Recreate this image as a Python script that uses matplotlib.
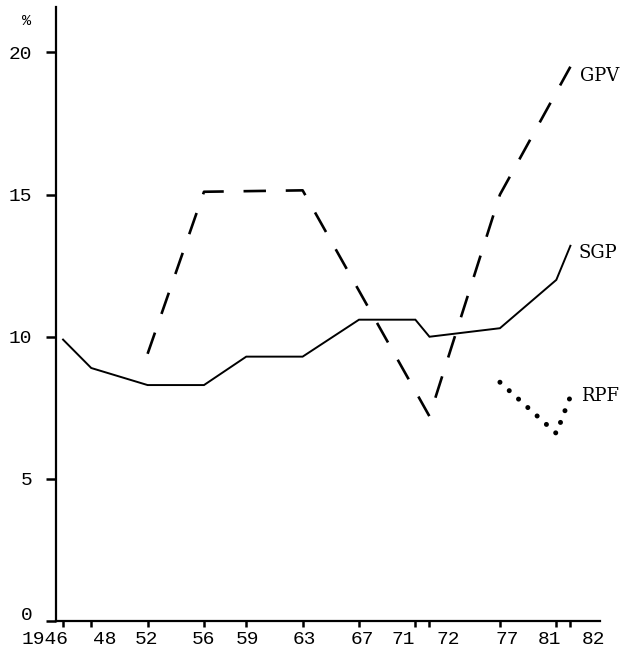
import matplotlib
matplotlib.use("Agg")
import matplotlib.pyplot as plt
import matplotlib.transforms as mtransforms

# years on the x axis (ticks) and their printed labels
tick_years = [1946, 1948, 1952, 1956, 1959, 1963, 1967, 1971, 1972, 1977, 1981, 1982]
tick_labels = ["1946", "48", "52", "56", "59", "63", "67", "71", "72", "77", "81", "82"]

# series (%)
sgp_years = [1946, 1948, 1952, 1956, 1959, 1963, 1967, 1971, 1972, 1977, 1981, 1982]
sgp_values = [9.9, 8.9, 8.3, 8.3, 9.3, 9.3, 10.6, 10.6, 10.0, 10.3, 12.0, 13.2]

gpv_years = [1952, 1956, 1963, 1972, 1977, 1982]
gpv_values = [9.4, 15.1, 15.15, 7.2, 15.0, 19.5]

rpf_years = [1977, 1981, 1982]
rpf_values = [8.4, 6.6, 7.9]

y_ticks = [0, 5, 10, 15, 20]

# typewriter labels were hand placed, nudge them like the original (pixels)
label_nudge = [-18, 14, -1, 0, 1, 2, 3, -12, 19, 7, -7, 23]

fig = plt.figure(figsize=(6.24, 6.5), dpi=100)
ax = fig.add_axes([56 / 624, 29 / 650, 544 / 624, 614 / 650])

ax.plot(sgp_years, sgp_values, color="black", lw=1.4, solid_joinstyle="miter")
ax.plot(gpv_years, gpv_values, color="black", lw=1.9, linestyle=(0, (8.5, 7.5)),
        dash_capstyle="butt")
ax.plot(rpf_years, rpf_values, color="black", lw=3.6, linestyle=(0, (0.01, 2.5)),
        dash_capstyle="round")

label_font = dict(family="DejaVu Serif", fontsize=13, color="black")
ax.annotate("GPV", (gpv_years[-1], gpv_values[-1]), xytext=(7, -7),
            textcoords="offset points", va="center", ha="left", **label_font)
ax.annotate("SGP", (sgp_years[-1], sgp_values[-1]), xytext=(6, -5),
            textcoords="offset points", va="center", ha="left", **label_font)
ax.annotate("RPF", (rpf_years[-1], rpf_values[-1]), xytext=(8, 0),
            textcoords="offset points", va="center", ha="left", **label_font)

ax.set_xlim(1945.5, 1984.1)
ax.set_ylim(0, 21.6)

for side in ["top", "right"]:
    ax.spines[side].set_visible(False)
for side in ["left", "bottom"]:
    ax.spines[side].set_linewidth(1.6)

ax.set_yticks(y_ticks)
ax.set_yticklabels([str(v) for v in y_ticks], family="Liberation Mono", fontsize=14)
ax.tick_params(axis="y", direction="out", length=7, width=1.8, pad=10)

# the "0" sits a bit above the x axis in the original
zero_lab = ax.get_yticklabels()[0]
zero_lab.set_transform(zero_lab.get_transform() +
                       mtransforms.ScaledTranslation(0, 7 / 100, fig.dpi_scale_trans))

ax.set_xticks(tick_years)
ax.set_xticklabels(tick_labels, family="Liberation Mono", fontsize=14)
ax.tick_params(axis="x", direction="out", length=4, width=1.8, pad=3)

for lab, dx in zip(ax.get_xticklabels(), label_nudge):
    lab.set_transform(lab.get_transform() +
                      mtransforms.ScaledTranslation(dx / 100, 0, fig.dpi_scale_trans))

fig.text(27 / 624, 1 - 21 / 650, "%", family="Liberation Mono", fontsize=11,
         ha="center", va="center")

fig.savefig("out.png", dpi=100)
